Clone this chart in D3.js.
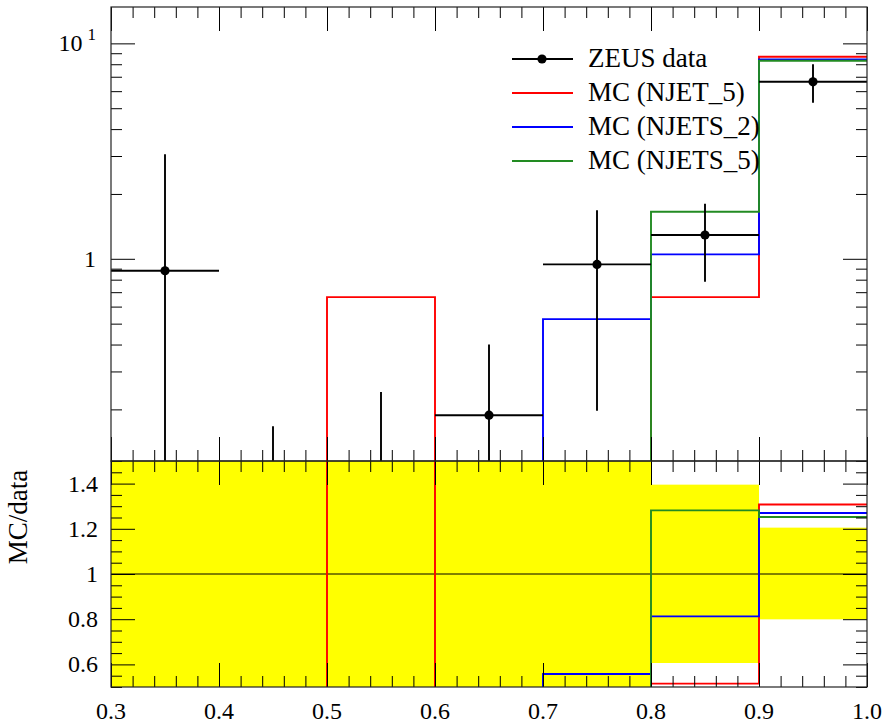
<!DOCTYPE html>
<html>
<head>
<meta charset="utf-8">
<script src="https://cdn.jsdelivr.net/npm/d3@7"></script>
<style>
  body { margin: 0; background: #fff; }
  #plot text { font-family: 'Liberation Serif', 'DejaVu Serif', serif; fill: #000; }
</style>
</head>
<body>
<svg id="plot" width="888" height="725"></svg>
<script>
// bins and values
const binEdges = [0.3, 0.4, 0.5, 0.6, 0.7, 0.8, 0.9, 1.0];
const zeusVal     = [0.88, 0, 0, 0.188, 0.942, 1.29, 6.63];
const zeusErrUp   = [2.18, 0.167, 0.241, 0.212, 0.738, 0.51, 1.36];
const zeusErrDown = [0.88, 0, 0, 0.188, 0.745, 0.508, 1.33];
const mcNjet5   = [0, 0, 0.664, 0, 0, 0.664, 8.67];
const mcNjets2  = [0, 0, 0, 0, 0.525, 1.048, 8.42];
const mcNjets5  = [0, 0, 0, 0, 0, 1.653, 8.30];
const mcNames  = ["MC (NJET_5)", "MC (NJETS_2)", "MC (NJETS_5)"];
const mcColors = ["#ff0000", "#0000ff", "#228b22"];
const xTickLabels = ["0.3", "0.4", "0.5", "0.6", "0.7", "0.8", "0.9", "1.0"];
const ratioTickLabels = ["0.6", "0.8", "1", "1.2", "1.4"];

const pL = 111, pR = 867, pT = 7, pM = 461, pB = 687;
const serif = "'Liberation Serif', 'DejaVu Serif', serif";
const svg = d3.select("#plot").attr("font-family", serif);

const x = d3.scaleLinear().domain([0.3, 1.0]).range([pL, pR]);
const y = d3.scaleLog().domain([0.1152, 14.75]).range([pM, pT]);
const yr = d3.scaleLinear().domain([0.5, 1.5]).range([pB, pM]);

const defs = svg.append("defs");
defs.append("clipPath").attr("id", "clipTop").append("rect")
  .attr("x", pL).attr("y", pT).attr("width", pR - pL).attr("height", pM - pT);
defs.append("clipPath").attr("id", "clipRatio").append("rect")
  .attr("x", pL).attr("y", pM).attr("width", pR - pL).attr("height", pB - pM);

// value -> pixel, zeros fall below the clip
function yTop(v) { return v > 0 ? y(v) : pM + 100; }
function yRat(v) { return yr(Math.max(-5, Math.min(50, v))); }
function binMid(i) { return x((binEdges[i] + binEdges[i + 1]) / 2); }

function stepPath(vals, fy) {
  let p = "M" + x(binEdges[0]) + "," + fy(vals[0]);
  vals.forEach(function(v, i) {
    if (i > 0) p += "V" + fy(v);
    p += "H" + x(binEdges[i + 1]);
  });
  return p;
}

const idx = d3.range(zeusVal.length);
const lw = 1.9;

// ---------- ratio panel ----------
const ratioG = svg.append("g").attr("clip-path", "url(#clipRatio)");
ratioG.selectAll("rect.band").data(idx).enter().append("rect")
  .attr("x", i => x(binEdges[i]))
  .attr("width", i => x(binEdges[i + 1]) - x(binEdges[i]))
  .attr("y", i => zeusVal[i] > 0 ? yRat(1 + zeusErrUp[i] / zeusVal[i]) : pM - 50)
  .attr("height", i => zeusVal[i] > 0
      ? yRat(1 - zeusErrDown[i] / zeusVal[i]) - yRat(1 + zeusErrUp[i] / zeusVal[i])
      : pB - pM + 100)
  .attr("fill", "#ffff00");

ratioG.append("line")
  .attr("x1", pL).attr("x2", pR).attr("y1", yr(1)).attr("y2", yr(1))
  .attr("stroke", "#000").attr("stroke-width", 1);

[mcNjet5, mcNjets2, mcNjets5].forEach(function(mc, k) {
  const ratio = mc.map(function(v, i) {
    if (zeusVal[i] > 0) return v / zeusVal[i];
    return v > 0 ? 100 : 0;
  });
  ratioG.append("path").attr("d", stepPath(ratio, yRat))
    .attr("fill", "none").attr("stroke", mcColors[k]).attr("stroke-width", lw);
});

// ---------- top panel ----------
const topG = svg.append("g").attr("clip-path", "url(#clipTop)");
[mcNjet5, mcNjets2, mcNjets5].forEach(function(mc, k) {
  topG.append("path").attr("d", stepPath(mc, yTop))
    .attr("fill", "none").attr("stroke", mcColors[k]).attr("stroke-width", lw);
});

const dataG = topG.selectAll("g.pt").data(idx).enter().append("g");
dataG.append("line")
  .attr("x1", i => x(binEdges[i])).attr("x2", i => x(binEdges[i + 1]))
  .attr("y1", i => yTop(zeusVal[i])).attr("y2", i => yTop(zeusVal[i]))
  .attr("stroke", "#000").attr("stroke-width", lw);
dataG.append("line")
  .attr("x1", i => binMid(i)).attr("x2", i => binMid(i))
  .attr("y1", i => yTop(zeusVal[i] - zeusErrDown[i]))
  .attr("y2", i => yTop(zeusVal[i] + zeusErrUp[i]))
  .attr("stroke", "#000").attr("stroke-width", lw);
dataG.filter(i => zeusVal[i] > 0).append("circle")
  .attr("cx", i => binMid(i))
  .attr("cy", i => yTop(zeusVal[i]))
  .attr("r", 4.6).attr("fill", "#000");

// ---------- ticks ----------
function tickAxis(axisFn, scale, vals, size, tx, ty) {
  const g = svg.append("g").attr("transform", "translate(" + tx + "," + ty + ")");
  g.call(axisFn(scale).tickValues(vals).tickSize(size).tickFormat(""));
  g.select(".domain").remove();
  g.selectAll("line").attr("stroke", "#000").attr("stroke-width", 1);
  return g;
}

const xMajor = d3.range(8).map(i => 0.3 + i * 0.1);
const xMinor = d3.range(36).filter(i => i % 5 != 0).map(i => 0.3 + i * 0.02);
const yMajor = [1, 10];
const yMinor = [0.2, 0.3, 0.4, 0.5, 0.6, 0.7, 0.8, 0.9, 2, 3, 4, 5, 6, 7, 8, 9];
const rMajor = [0.6, 0.8, 1.0, 1.2, 1.4];
const rMinor = d3.range(21).filter(i => i % 4 != 2).map(i => 0.5 + i * 0.05);

[[pT, d3.axisTop], [pM, d3.axisBottom], [pM, d3.axisTop], [pB, d3.axisBottom]].forEach(function(a) {
  tickAxis(a[1], x, xMajor, -24, 0, a[0]);
  tickAxis(a[1], x, xMinor, -11, 0, a[0]);
});
tickAxis(d3.axisLeft, y, yMajor, -24, pL, 0);
tickAxis(d3.axisLeft, y, yMinor, -11, pL, 0);
tickAxis(d3.axisRight, y, yMajor, -24, pR, 0);
tickAxis(d3.axisRight, y, yMinor, -11, pR, 0);
tickAxis(d3.axisLeft, yr, rMajor, -24, pL, 0);
tickAxis(d3.axisLeft, yr, rMinor, -11, pL, 0);
tickAxis(d3.axisRight, yr, rMajor, -24, pR, 0);
tickAxis(d3.axisRight, yr, rMinor, -11, pR, 0);

// frame
[[pT, pM], [pM, pB]].forEach(function(r) {
  svg.append("rect").attr("x", pL).attr("y", r[0])
    .attr("width", pR - pL).attr("height", r[1] - r[0])
    .attr("fill", "none").attr("stroke", "#222").attr("stroke-width", 1.2);
});

// ---------- labels ----------
function label(xp, yp, str, size, anchor) {
  return svg.append("text").attr("x", xp).attr("y", yp)
    .attr("font-family", serif).attr("font-size", size)
    .attr("text-anchor", anchor).text(str);
}

xTickLabels.forEach(function(d, i) { label(x(xMajor[i]), 719, d, 24, "middle"); });
ratioTickLabels.forEach(function(d, i) { label(98, yr(rMajor[i]) + 8, d, 24, "end"); });
label(96, y(1) + 8, "1", 24, "end");

const t10 = label(96, y(10) + 8, "", 24, "end");
t10.append("tspan").text("10");
t10.append("tspan").attr("dx", 5).attr("dy", -11).attr("font-size", 17).text("1");

label(0, 0, "MC/data", 27, "middle")
  .attr("x", null).attr("y", null)
  .attr("transform", "translate(27,517) rotate(-90)");

// ---------- legend ----------
const legY = [59, 93, 127, 161];
svg.append("line").attr("x1", 512).attr("x2", 573).attr("y1", legY[0]).attr("y2", legY[0])
  .attr("stroke", "#000").attr("stroke-width", lw);
svg.append("circle").attr("cx", 542).attr("cy", legY[0]).attr("r", 4.6).attr("fill", "#000");
label(588, legY[0] + 8, "ZEUS data", 27, "start");
mcNames.forEach(function(name, k) {
  svg.append("line").attr("x1", 512).attr("x2", 573).attr("y1", legY[k + 1]).attr("y2", legY[k + 1])
    .attr("stroke", mcColors[k]).attr("stroke-width", lw);
  label(588, legY[k + 1] + 8, name, 27, "start");
});
</script>
</body>
</html>
